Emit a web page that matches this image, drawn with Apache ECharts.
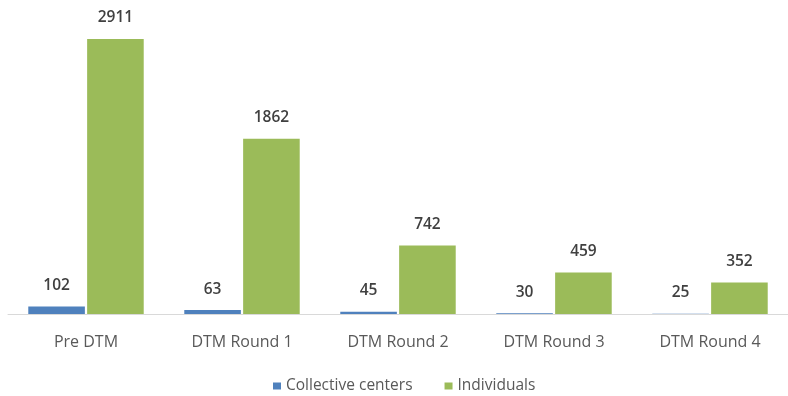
<!DOCTYPE html>
<html>
<head>
<meta charset="utf-8">
<script src="https://cdn.jsdelivr.net/npm/echarts@6/dist/echarts.min.js"></script>
<style>
  html, body { margin: 0; padding: 0; background: #fff; }
  #chart { width: 788px; height: 396px; }
</style>
</head>
<body>
<div id="chart"></div>
<script>
// Categories and series values
const categories = ['Pre DTM', 'DTM Round 1', 'DTM Round 2', 'DTM Round 3', 'DTM Round 4'];
const collectiveCenters = [102, 63, 45, 30, 25];
const individuals = [2911, 1862, 742, 459, 352];
const seriesNames = ['Collective centers', 'Individuals'];

const chart = echarts.init(document.getElementById('chart'));
const fontFamily = '"Open Sans", "Noto Sans", sans-serif';

const valueLabel = {
  show: true,
  position: 'top',
  distance: 13,
  color: '#404040',
  fontFamily: fontFamily,
  fontSize: 15.5,
  fontWeight: 600
};

chart.setOption({
  animation: false,
  grid: { left: 8, right: -2, top: 30.5, bottom: 82 },
  legend: {
    bottom: -3,
    left: 268,
    itemWidth: 8,
    itemHeight: 7,
    itemGap: 32,
    icon: 'rect',
    textStyle: { color: '#595959', fontFamily: fontFamily, fontSize: 15.5 },
    data: seriesNames
  },
  xAxis: {
    type: 'category',
    data: categories,
    axisLine: { lineStyle: { color: '#d9d9d9', width: 1 } },
    axisTick: { show: false },
    axisLabel: { color: '#595959', fontFamily: fontFamily, fontSize: 16, margin: 20 }
  },
  yAxis: {
    type: 'value',
    min: 22,
    max: 3000,
    show: false,
    splitLine: { show: false }
  },
  series: [
    {
      name: seriesNames[0],
      type: 'bar',
      data: collectiveCenters,
      itemStyle: { color: '#4f81bd' },
      barGap: '4%',
      barCategoryGap: '26%',
      label: valueLabel
    },
    {
      name: seriesNames[1],
      type: 'bar',
      data: individuals,
      itemStyle: { color: '#9bbb59' },
      label: valueLabel
    }
  ]
});
</script>
</body>
</html>
